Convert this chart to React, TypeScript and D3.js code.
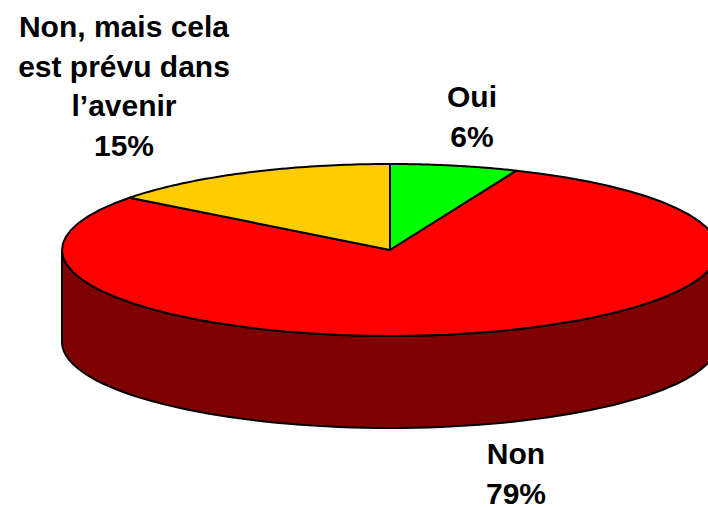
import React from "react";
import * as d3 from "d3";

const categories = ["Oui", "Non", "Non, mais cela est prévu dans l’avenir"];
const values = [6.3, 79.1, 14.6];
const colors = ["#00ff00", "#ff0000", "#ffcc00"];
const labels = [
  { lines: ["Oui", "6%"], x: 472, y: 107 },
  { lines: ["Non", "79%"], x: 516, y: 464 },
  { lines: ["Non, mais cela", "est prévu dans", "l’avenir", "15%"], x: 124, y: 37 },
];

const cx = 390, cy = 250, rx = 328, ry = 86, depth = 92;

export default function App() {
  const arcs = d3.pie<number>().sort(null)(values);
  const pt = (a: number): [number, number] => [cx + rx * Math.sin(a), cy - ry * Math.cos(a)];
  const line = d3.line();
  const pts = (a0: number, a1: number, n = 40) => d3.range(n + 1).map((i) => pt(a0 + ((a1 - a0) * i) / n));
  const slicePath = (a0: number, a1: number) => line([[cx, cy], ...pts(a0, a1, 60)])! + "Z";
  const front = pts(Math.PI / 2, (3 * Math.PI) / 2, 80);
  const sidePts: [number, number][] = [...front, ...front.slice().reverse().map(([x, y]) => [x, y + depth] as [number, number])];
  return (
    <svg width={708} height={507} style={{ position: "absolute", left: 0, top: 0, background: "#fff" }}>
      <path d={line(sidePts)! + "Z"} fill="#7f0000" stroke="#000" strokeWidth={2} strokeLinejoin="round" />
      {arcs.map((d, i) => (
        <path key={categories[i]} d={slicePath(d.startAngle, d.endAngle)} fill={colors[i]} stroke="#000" strokeWidth={2} strokeLinejoin="round" />
      ))}
      {labels.map((l) => (
        <text key={l.lines[0]} textAnchor="middle" fontFamily="Liberation Sans, Arial, sans-serif" fontWeight="bold" fontSize={30} fill="#000">
          {l.lines.map((t, j) => (
            <tspan key={j} x={l.x} y={l.y + j * 39.7}>{t}</tspan>
          ))}
        </text>
      ))}
    </svg>
  );
}
